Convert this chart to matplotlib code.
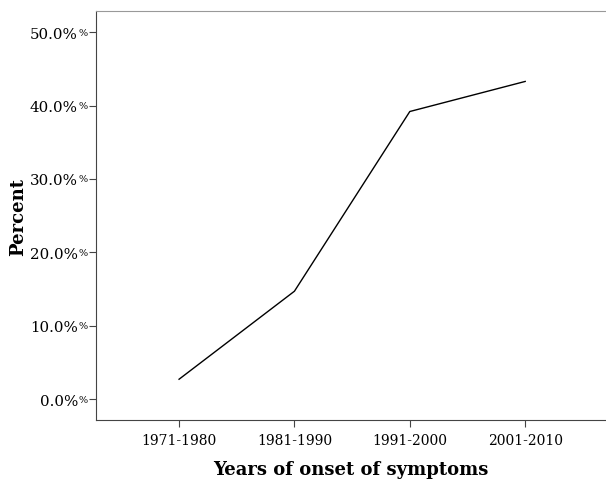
import matplotlib.pyplot as plt
import matplotlib.transforms as mtransforms

# Data
periods = ['1971-1980', '1981-1990', '1991-2000', '2001-2010']
percent = [2.7, 14.7, 39.2, 43.3]
yticks = [0, 10, 20, 30, 40, 50]

plt.rcParams['font.family'] = ['DejaVu Serif']

fig = plt.figure(figsize=(6.06, 4.81), dpi=100)
ax = fig.add_axes([0.1584, 0.1247, 0.8396, 0.8503])

x = list(range(len(periods)))
ax.plot(x, percent, color='black', lw=1.0)

ax.set_xlim(-0.72, 3.69)
ax.set_ylim(-2.86, 52.9)
ax.set_xticks(x)
ax.set_xticklabels(periods, fontsize=10)
ax.set_yticks(yticks)
ax.set_yticklabels(['%.1f%%' % v for v in yticks], fontsize=10.8)
ax.tick_params(axis='y', length=5, pad=8, color='#444444')
ax.tick_params(axis='x', length=5, pad=4, color='#444444')

# small "%" next to each y tick
trans = mtransforms.blended_transform_factory(ax.transAxes, ax.transData)
for v in yticks:
    ax.text(-0.0165, v, '%', transform=trans, fontsize=7, ha='right', va='center')

ax.spines['right'].set_visible(False)
ax.spines['top'].set_color('#999999')
ax.spines['left'].set_color('#444444')
ax.spines['bottom'].set_color('#444444')

ax.set_xlabel('Years of onset of symptoms', fontsize=13, fontweight='bold', labelpad=10)
ax.set_ylabel('Percent', fontsize=13, fontweight='bold', labelpad=2)

fig.savefig('out.png', dpi=100)
